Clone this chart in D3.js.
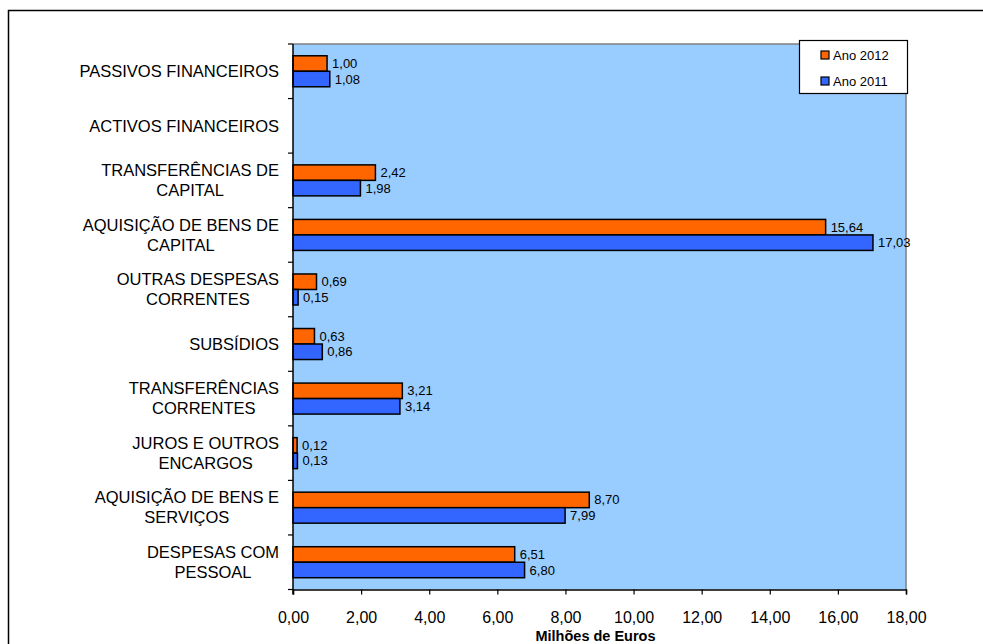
<!DOCTYPE html>
<html><head><meta charset="utf-8">
<script src="https://cdn.jsdelivr.net/npm/d3@7"></script>
<style>
html,body{margin:0;padding:0;background:#fff;overflow:hidden;}
svg{display:block;font-family:"Liberation Sans",Arial,sans-serif;}
</style></head>
<body>
<svg id="c" width="983" height="644"></svg>
<script>
const categories = [
  "PASSIVOS FINANCEIROS",
  "ACTIVOS FINANCEIROS",
  "TRANSFERÊNCIAS DE|CAPITAL",
  "AQUISIÇÃO DE BENS DE|CAPITAL",
  "OUTRAS DESPESAS|CORRENTES",
  "SUBSÍDIOS",
  "TRANSFERÊNCIAS|CORRENTES",
  "JUROS E OUTROS|ENCARGOS",
  "AQUISIÇÃO DE BENS E|SERVIÇOS",
  "DESPESAS COM|PESSOAL"
];
const values2012 = [1.00, null, 2.42, 15.64, 0.69, 0.63, 3.21, 0.12, 8.70, 6.51];
const values2011 = [1.08, null, 1.98, 17.03, 0.15, 0.86, 3.14, 0.13, 7.99, 6.80];
const seriesNames = ["Ano 2012", "Ano 2011"];
const xTicks = [0, 2, 4, 6, 8, 10, 12, 14, 16, 18];
const xTitle = "Milhões de Euros";

const colors = ["#FF6600", "#3366FF"];
const svg = d3.select("#c");
const L = 293, R = 906, T = 44, B = 589.5;

// outer frame (top and left edges only visible)
svg.append("path").attr("d", "M8.5,700V10.5H1000")
  .attr("fill", "none").attr("stroke", "#000").attr("stroke-width", 1.5);

const x = d3.scaleLinear().domain([0, 18]).range([L, R]);
const y = d3.scaleBand().domain(categories).range([T, B]).paddingInner(0).paddingOuter(0);
const series = [values2012, values2011];
const inner = d3.scaleBand().domain([0, 1]).range([0, 31]);

// plot area
svg.append("rect").attr("x", L).attr("y", T).attr("width", R - L).attr("height", B - T)
  .attr("fill", "#99CCFF");
svg.append("path").attr("d", `M${L},${T}H${R}V${B}`).attr("fill", "none")
  .attr("stroke", "#808080").attr("stroke-width", 1.5);

// bars
series.forEach((vals, si) => {
  const g = svg.append("g");
  categories.forEach((c, i) => {
    const v = vals[i];
    if (v == null) return;
    const y0 = y(c) + y.bandwidth() / 2 - 15.5 + inner(si);
    g.append("rect").attr("x", x(0)).attr("y", y0)
      .attr("width", x(v) - x(0)).attr("height", inner.bandwidth())
      .attr("fill", colors[si]).attr("stroke", "#000").attr("stroke-width", 1.5);
    g.append("text").attr("x", x(v) + 5).attr("y", y0 + inner.bandwidth() / 2)
      .attr("dy", "0.35em").attr("font-size", 13).attr("fill", "#000")
      .text(v.toFixed(2).replace(".", ","));
  });
});

// x axis
const xAxis = d3.axisBottom(x).tickValues(xTicks).tickSize(5)
  .tickFormat(d => d.toFixed(2).replace(".", ","));
const gx = svg.append("g").attr("transform", `translate(0,${B})`).call(xAxis);
gx.select(".domain").attr("stroke", "#000").attr("stroke-width", 1.5);
gx.selectAll(".tick line").attr("stroke", "#000").attr("stroke-width", 1.2);
gx.selectAll(".tick text").attr("font-size", 16).attr("font-family", "Liberation Sans, Arial, sans-serif")
  .attr("fill", "#000").attr("y", 22);

// y axis line and ticks at band boundaries
svg.append("line").attr("x1", L).attr("x2", L).attr("y1", T).attr("y2", B + 5)
  .attr("stroke", "#000").attr("stroke-width", 1.5);
categories.forEach((c, i) => {
  const yy = y(c) + y.bandwidth();
  svg.append("line").attr("x1", L - 5).attr("x2", L).attr("y1", yy).attr("y2", yy)
    .attr("stroke", "#000").attr("stroke-width", 1.2);
});
svg.append("line").attr("x1", L - 5).attr("x2", L).attr("y1", T).attr("y2", T)
  .attr("stroke", "#000").attr("stroke-width", 1.2);

// category labels: block right-aligned, lines centered
const measure = svg.append("text").attr("font-size", 16.5).attr("visibility", "hidden");
categories.forEach(c => {
  const lines = c.split("|");
  const widths = lines.map(l => { measure.text(l); return measure.node().getComputedTextLength(); });
  const maxW = Math.max(...widths);
  const cx = 279 - maxW / 2;
  const cy = y(c) + y.bandwidth() / 2;
  const lh = 20;
  lines.forEach((l, k) => {
    svg.append("text").attr("x", cx).attr("y", cy + (k - (lines.length - 1) / 2) * lh)
      .attr("dy", "0.35em").attr("text-anchor", "middle").attr("font-size", 16.5)
      .attr("fill", "#000").text(l);
  });
});
measure.remove();

// axis title
svg.append("text").attr("x", (L + R) / 2 - 4).attr("y", 636).attr("dy", "0.35em")
  .attr("text-anchor", "middle").attr("font-size", 14.5).attr("font-weight", "bold")
  .attr("fill", "#000").text(xTitle);

// legend
const lg = svg.append("g");
lg.append("rect").attr("x", 799.5).attr("y", 40.5).attr("width", 108).attr("height", 53)
  .attr("fill", "#fff").attr("stroke", "#000").attr("stroke-width", 1.2);
seriesNames.forEach((n, i) => {
  const cy = 55 + i * 26;
  lg.append("rect").attr("x", 821).attr("y", cy - 4).attr("width", 8).attr("height", 8)
    .attr("fill", colors[i]).attr("stroke", "#000").attr("stroke-width", 1.2);
  lg.append("text").attr("x", 833).attr("y", cy).attr("dy", "0.35em").attr("font-size", 13)
    .attr("fill", "#000").text(n);
});
</script>
</body></html>
